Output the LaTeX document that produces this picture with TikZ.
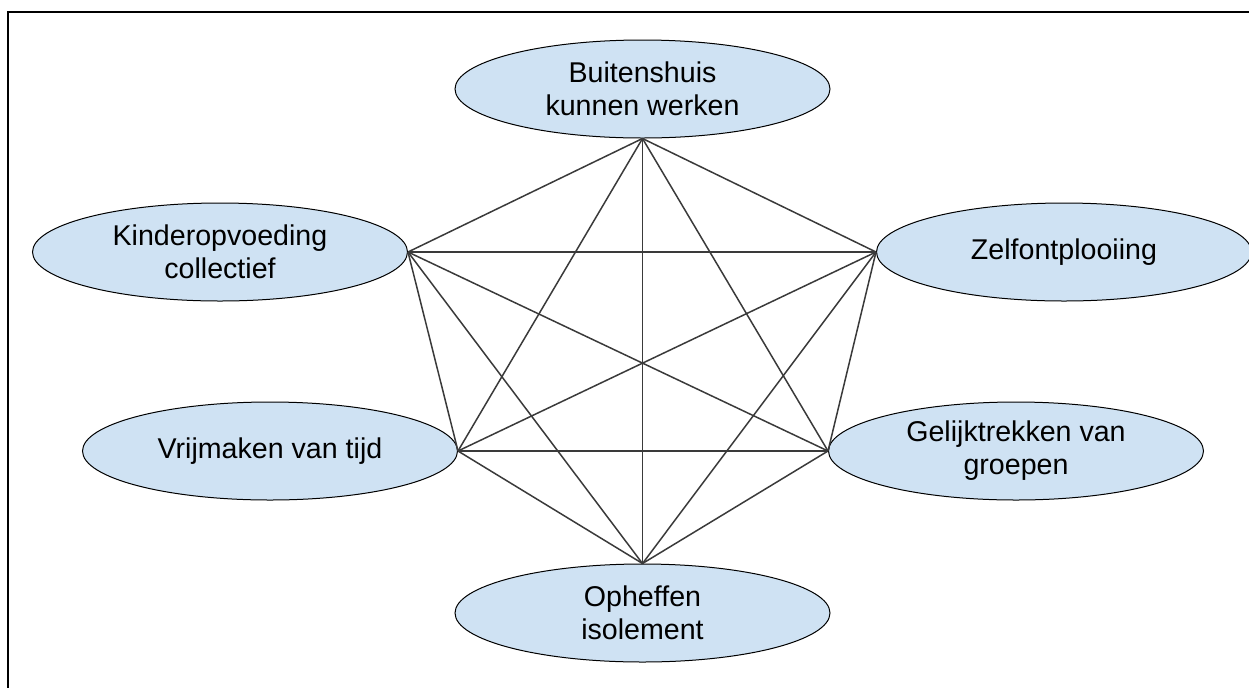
\documentclass[tikz,border=0pt]{standalone}
\usepackage{fontspec}
\setmainfont{Liberation Sans}
\usetikzlibrary{shapes.geometric}
\definecolor{bubble}{HTML}{CFE2F3}
\definecolor{wire}{HTML}{3A3A3A}

\tikzset{
  goal/.style={ellipse, draw=black, line width=0.5pt, fill=bubble,
    minimum width=187.5pt, minimum height=49pt, inner sep=0pt,
    align=center, font=\fontsize{14.3}{16.5}\selectfont},
  link/.style={draw=wire, line width=0.75pt},
}

\begin{document}
\begin{tikzpicture}[x=0.5pt,y=-0.5pt]
\useasboundingbox (0,0) rectangle (1249,687);
\draw[line width=1pt] (8,720) -- (8,12) -- (1270,12);
\node[goal] (buiten) at (642.5,89) {Buitenshuis\\kunnen werken};
\node[goal] (kinder) at (220,252) {Kinderopvoeding\\collectief};
\node[goal] (zelf) at (1064,252) {Zelfontplooiing};
\node[goal] (vrij) at (270,451) {Vrijmaken van tijd};
\node[goal] (gelijk) at (1016,451) {Gelijktrekken van\\groepen};
\node[goal] (opheffen) at (642.5,613) {Opheffen\\isolement};
\foreach \a/\b in {buiten.south/kinder.east, buiten.south/zelf.west,
    buiten.south/vrij.east, buiten.south/gelijk.west, buiten.south/opheffen.north,
    kinder.east/zelf.west, kinder.east/vrij.east, kinder.east/gelijk.west,
    kinder.east/opheffen.north, zelf.west/vrij.east, zelf.west/gelijk.west,
    zelf.west/opheffen.north, vrij.east/gelijk.west, vrij.east/opheffen.north,
    gelijk.west/opheffen.north}
    \draw[link] (\a) -- (\b);
\end{tikzpicture}
\end{document}
